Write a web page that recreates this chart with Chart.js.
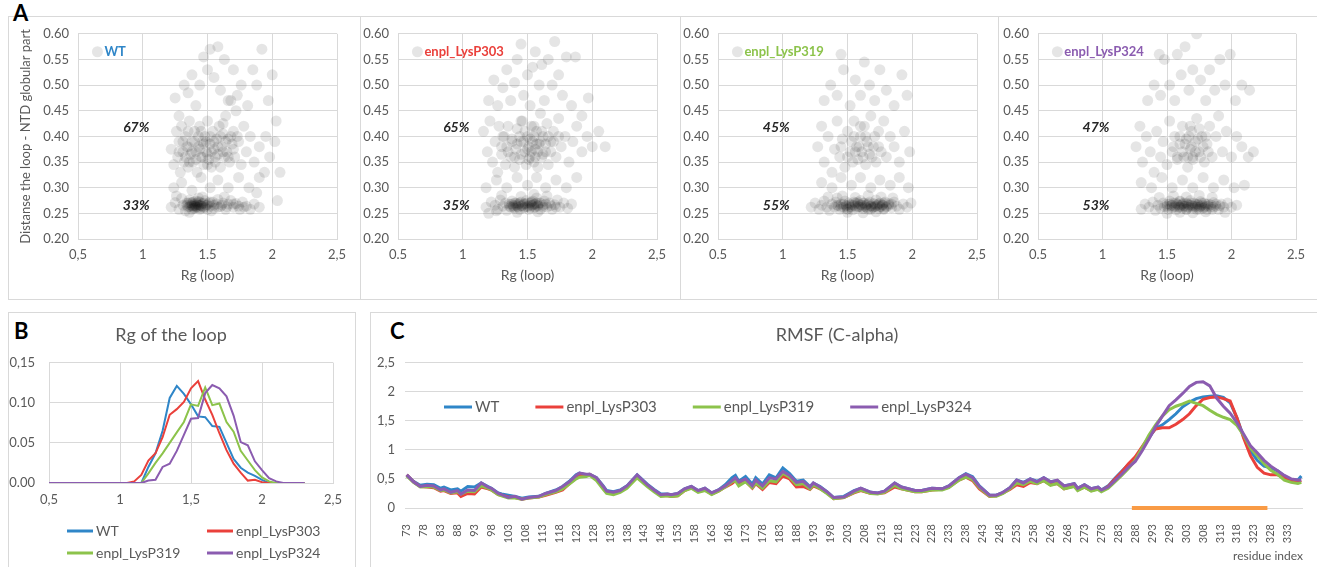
<!DOCTYPE html>
<html>
<head>
<meta charset="utf-8">
<script src="https://cdn.jsdelivr.net/npm/chart.js@4.4.0/dist/chart.umd.min.js"></script>
<style>
body { margin:0; width:1317px; height:567px; background:#fff; position:relative; overflow:hidden; font-family:Lato, sans-serif; }
.frame { position:absolute; border:1px solid #d9d9d9; box-sizing:border-box; }
.vline { position:absolute; width:1px; background:#d9d9d9; }
.tag { position:absolute; font:bold 22px Lato, sans-serif; line-height:1; color:#000; }
.plot { position:absolute; }
</style>
</head>
<body>
<div class="frame" style="left:8px;top:16px;width:1330px;height:284px"></div>
<div class="vline" style="left:360px;top:16px;height:284px"></div>
<div class="vline" style="left:680px;top:16px;height:284px"></div>
<div class="vline" style="left:998px;top:16px;height:284px"></div>
<div class="frame" style="left:8px;top:312px;width:348px;height:280px"></div>
<div class="frame" style="left:370px;top:312px;width:960px;height:280px"></div>
<div class="tag" style="left:13px;top:2px">A</div>
<div class="tag" style="left:14px;top:320px">B</div>
<div class="tag" style="left:390px;top:320px">C</div>

<div class="plot" style="left:9px;top:17px"><canvas id="a1" width="350" height="280"></canvas></div>
<div class="plot" style="left:361px;top:17px"><canvas id="a2" width="318" height="280"></canvas></div>
<div class="plot" style="left:681px;top:17px"><canvas id="a3" width="316" height="280"></canvas></div>
<div class="plot" style="left:999px;top:17px"><canvas id="a4" width="318" height="280"></canvas></div>
<div class="plot" style="left:9px;top:314px"><canvas id="b" width="346" height="253"></canvas></div>
<div class="plot" style="left:371px;top:314px"><canvas id="c" width="946" height="253"></canvas></div>

<script>
// ---------- data ----------
const seriesNames = ['WT', 'enpl_LysP303', 'enpl_LysP319', 'enpl_LysP324'];
const seriesColors = ['#2f86c8', '#ea403b', '#8cc34b', '#8b5cb0'];

// panel A: Rg (loop) vs distance loop - NTD globular part, [rg, dist]
const wtPoints = [
  [1.22,0.262],[1.25,0.271],[1.28,0.258],[1.30,0.279],[1.31,0.266],[1.33,0.255],[1.34,0.270],[1.35,0.262],[1.36,0.276],[1.37,0.266],
  [1.38,0.258],[1.38,0.270],[1.39,0.264],[1.40,0.268],[1.40,0.260],[1.41,0.274],[1.41,0.265],[1.42,0.262],[1.42,0.270],[1.43,0.266],
  [1.44,0.258],[1.44,0.272],[1.45,0.265],[1.46,0.269],[1.47,0.261],[1.48,0.275],[1.49,0.266],[1.50,0.258],[1.51,0.270],[1.52,0.264],
  [1.54,0.272],[1.55,0.260],[1.57,0.268],[1.58,0.277],[1.60,0.263],[1.62,0.270],[1.64,0.258],[1.66,0.268],[1.68,0.275],[1.70,0.262],
  [1.72,0.269],[1.75,0.258],[1.77,0.272],[1.80,0.264],[1.83,0.258],[1.86,0.268],[1.90,0.262],[1.26,0.284],[1.46,0.282],[1.53,0.255],
  [1.36,0.252],[1.43,0.280],[1.63,0.282],[1.78,0.262],
  [1.34,0.266],[1.35,0.270],[1.36,0.263],[1.37,0.271],[1.38,0.265],[1.39,0.260],[1.39,0.272],[1.40,0.265],[1.41,0.262],[1.42,0.267],
  [1.43,0.261],[1.43,0.273],[1.44,0.266],[1.45,0.260],[1.46,0.264],[1.47,0.270],[1.48,0.262],[1.50,0.267],[1.52,0.272],[1.55,0.266],
  [1.58,0.262],[1.61,0.266],[1.65,0.263],[1.70,0.268],[1.74,0.264],
  [1.22,0.375],[1.24,0.345],[1.26,0.41],[1.27,0.36],[1.28,0.39],[1.29,0.33],[1.30,0.42],[1.31,0.37],[1.32,0.35],[1.33,0.40],
  [1.34,0.38],[1.35,0.34],[1.36,0.43],[1.37,0.365],[1.38,0.39],[1.39,0.35],[1.40,0.41],[1.41,0.37],[1.42,0.33],[1.43,0.38],
  [1.44,0.42],[1.45,0.36],[1.46,0.39],[1.47,0.345],[1.48,0.40],[1.49,0.37],[1.50,0.43],[1.51,0.355],[1.52,0.385],[1.53,0.34],
  [1.54,0.41],[1.55,0.375],[1.56,0.35],[1.57,0.395],[1.58,0.365],[1.59,0.42],[1.60,0.34],[1.61,0.38],[1.62,0.405],[1.63,0.36],
  [1.64,0.44],[1.65,0.37],[1.66,0.395],[1.67,0.35],[1.68,0.47],[1.69,0.385],[1.70,0.41],[1.71,0.36],[1.72,0.45],[1.74,0.39],
  [1.76,0.345],[1.78,0.42],[1.80,0.37],[1.83,0.40],[1.86,0.35],[1.90,0.38],[1.94,0.33],[1.98,0.36],[2.02,0.39],[2.06,0.33],
  [1.28,0.37],[1.31,0.39],[1.33,0.36],[1.35,0.38],[1.36,0.35],[1.38,0.37],[1.40,0.39],[1.41,0.355],[1.43,0.40],[1.44,0.375],
  [1.46,0.36],[1.47,0.385],[1.49,0.39],[1.50,0.365],[1.52,0.40],[1.53,0.37],[1.55,0.39],[1.56,0.36],[1.58,0.38],[1.60,0.40],
  [1.62,0.37],[1.64,0.39],[1.66,0.36],[1.68,0.40],[1.70,0.375],[1.73,0.40],[1.45,0.41],[1.35,0.41],[1.62,0.425],[1.50,0.345],
  [1.25,0.475],[1.28,0.44],[1.32,0.50],[1.35,0.485],[1.38,0.52],[1.41,0.46],[1.44,0.50],[1.47,0.555],[1.50,0.53],[1.52,0.57],
  [1.55,0.515],[1.58,0.575],[1.60,0.49],[1.63,0.55],[1.66,0.47],[1.70,0.53],[1.73,0.48],[1.76,0.50],[1.81,0.46],[1.85,0.53],
  [1.88,0.50],[1.92,0.57],[1.97,0.47],[2.00,0.52],[1.95,0.40],[2.03,0.43],
  [1.24,0.30],[1.30,0.31],[1.38,0.295],[1.45,0.32],[1.52,0.30],[1.58,0.315],[1.66,0.30],[1.74,0.32],[1.82,0.30],[1.90,0.32],
  [1.88,0.29],[2.04,0.275]
];
const p303Points = [
  [1.18,0.262],[1.20,0.250],[1.22,0.272],[1.25,0.266],[1.27,0.258],[1.29,0.276],[1.31,0.264],[1.33,0.270],[1.34,0.256],[1.36,0.268],
  [1.37,0.262],[1.38,0.274],[1.39,0.265],[1.40,0.260],[1.41,0.270],[1.42,0.264],[1.43,0.268],[1.44,0.258],[1.45,0.272],[1.46,0.265],
  [1.47,0.261],[1.48,0.269],[1.49,0.275],[1.50,0.263],[1.51,0.258],[1.52,0.270],[1.53,0.266],[1.54,0.274],[1.55,0.261],[1.56,0.268],
  [1.57,0.280],[1.58,0.264],[1.59,0.270],[1.60,0.258],[1.62,0.266],[1.63,0.274],[1.65,0.262],[1.67,0.270],[1.69,0.258],[1.71,0.267],
  [1.73,0.276],[1.75,0.262],[1.78,0.270],[1.81,0.260],[1.84,0.268],[1.30,0.285],[1.45,0.283],[1.55,0.287],[1.65,0.284],[1.42,0.252],
  [1.58,0.253],[1.26,0.255],
  [1.36,0.264],[1.38,0.268],[1.39,0.262],[1.40,0.270],[1.41,0.266],[1.43,0.262],[1.44,0.270],[1.45,0.265],[1.47,0.268],[1.48,0.262],
  [1.50,0.270],[1.51,0.265],[1.52,0.261],[1.53,0.272],[1.54,0.266],[1.55,0.268],[1.56,0.262],[1.57,0.270],[1.58,0.266],[1.60,0.270],
  [1.62,0.262],[1.64,0.268],[1.68,0.265],[1.72,0.262],
  [1.16,0.41],[1.19,0.37],[1.21,0.43],[1.23,0.35],[1.25,0.39],[1.27,0.33],[1.28,0.42],[1.30,0.365],[1.31,0.40],[1.33,0.345],
  [1.34,0.38],[1.35,0.42],[1.37,0.36],[1.38,0.395],[1.40,0.34],[1.41,0.375],[1.42,0.415],[1.44,0.355],[1.45,0.39],[1.46,0.43],
  [1.48,0.37],[1.49,0.345],[1.50,0.40],[1.51,0.38],[1.52,0.36],[1.53,0.42],[1.54,0.39],[1.55,0.35],[1.56,0.375],[1.57,0.41],
  [1.58,0.34],[1.59,0.385],[1.60,0.445],[1.61,0.36],[1.62,0.40],[1.64,0.37],[1.65,0.425],[1.66,0.345],[1.68,0.39],[1.70,0.41],
  [1.72,0.36],[1.74,0.435],[1.76,0.38],[1.79,0.40],[1.82,0.35],[1.85,0.39],[1.88,0.42],[1.92,0.37],[1.96,0.40],[2.00,0.38],
  [2.05,0.41],[2.10,0.38],
  [1.35,0.37],[1.38,0.39],[1.40,0.36],[1.42,0.385],[1.44,0.40],[1.45,0.365],[1.47,0.39],[1.48,0.41],[1.50,0.375],[1.51,0.355],
  [1.52,0.395],[1.53,0.37],[1.55,0.40],[1.56,0.36],[1.57,0.385],[1.58,0.37],[1.60,0.39],[1.61,0.41],[1.62,0.365],[1.64,0.385],
  [1.66,0.40],[1.68,0.37],[1.70,0.39],[1.30,0.38],[1.32,0.40],[1.74,0.40],[1.55,0.42],[1.45,0.43],
  [1.20,0.47],[1.24,0.51],[1.27,0.46],[1.31,0.495],[1.34,0.53],[1.37,0.47],[1.40,0.505],[1.42,0.55],[1.45,0.58],[1.47,0.48],
  [1.50,0.52],[1.52,0.46],[1.54,0.535],[1.56,0.565],[1.59,0.50],[1.61,0.54],[1.63,0.47],[1.66,0.55],[1.69,0.50],[1.71,0.585],
  [1.74,0.52],[1.77,0.48],[1.80,0.555],[1.84,0.46],[1.87,0.555],[1.97,0.475],[1.92,0.44],
  [1.18,0.30],[1.26,0.315],[1.34,0.30],[1.42,0.32],[1.50,0.305],[1.57,0.32],[1.64,0.30],[1.72,0.315],[1.80,0.30],[1.88,0.32]
];
const p319Points = [
  [1.27,0.38],[1.30,0.42],[1.32,0.35],[1.35,0.40],[1.38,0.33],[1.40,0.375],[1.42,0.43],[1.44,0.36],[1.46,0.395],[1.48,0.34],
  [1.50,0.41],[1.52,0.37],[1.54,0.35],[1.55,0.43],[1.57,0.38],[1.58,0.355],[1.60,0.40],[1.61,0.37],[1.63,0.42],[1.64,0.345],
  [1.65,0.39],[1.67,0.365],[1.68,0.44],[1.70,0.38],[1.72,0.35],[1.74,0.41],[1.76,0.37],[1.78,0.43],[1.80,0.36],[1.83,0.40],
  [1.86,0.38],[1.90,0.35],[1.94,0.41],[1.98,0.37],
  [1.45,0.38],[1.50,0.36],[1.53,0.39],[1.56,0.37],[1.59,0.38],[1.62,0.36],[1.64,0.40],[1.66,0.38],[1.69,0.36],[1.71,0.40],
  [1.74,0.38],[1.60,0.42],[1.55,0.40],
  [1.32,0.47],[1.37,0.50],[1.42,0.48],[1.47,0.53],[1.52,0.46],[1.56,0.51],[1.60,0.48],[1.63,0.545],[1.67,0.50],[1.71,0.47],
  [1.75,0.53],[1.80,0.49],[1.86,0.46],[1.92,0.52],[1.96,0.48],[1.45,0.56],
  [1.30,0.31],[1.38,0.30],[1.45,0.32],[1.53,0.305],[1.60,0.32],[1.68,0.30],[1.75,0.315],[1.83,0.305],[1.90,0.32],[1.97,0.30],
  [1.22,0.262],[1.25,0.270],[1.28,0.258],[1.30,0.266],[1.32,0.274],[1.34,0.262],[1.36,0.256],[1.38,0.268],[1.40,0.262],[1.41,0.272],
  [1.43,0.265],[1.44,0.258],[1.45,0.268],[1.47,0.262],[1.48,0.274],[1.49,0.266],[1.50,0.259],[1.51,0.270],[1.52,0.263],[1.53,0.267],
  [1.54,0.257],[1.55,0.272],[1.56,0.264],[1.57,0.260],[1.58,0.269],[1.59,0.263],[1.60,0.275],[1.61,0.266],[1.62,0.259],[1.63,0.270],
  [1.64,0.263],[1.65,0.267],[1.66,0.258],[1.67,0.272],[1.68,0.264],[1.69,0.261],[1.70,0.269],[1.71,0.263],[1.72,0.276],[1.73,0.266],
  [1.74,0.259],[1.75,0.270],[1.76,0.263],[1.77,0.267],[1.78,0.258],[1.79,0.272],[1.80,0.264],[1.82,0.269],[1.84,0.261],[1.86,0.272],
  [1.88,0.264],[1.90,0.258],[1.93,0.268],[1.96,0.262],[1.99,0.270],[1.35,0.282],[1.46,0.284],[1.56,0.281],[1.66,0.285],[1.76,0.282],
  [1.50,0.252],[1.62,0.251],[1.72,0.253],[1.42,0.280],[1.85,0.280],
  [1.42,0.266],[1.45,0.262],[1.47,0.268],[1.49,0.264],[1.51,0.267],[1.53,0.262],[1.55,0.266],[1.56,0.270],[1.58,0.263],[1.60,0.267],
  [1.61,0.262],[1.62,0.270],[1.64,0.266],[1.65,0.261],[1.66,0.269],[1.68,0.265],[1.70,0.262],[1.71,0.268],[1.72,0.264],[1.74,0.268],
  [1.75,0.263],[1.77,0.266],[1.78,0.270],[1.80,0.262],[1.82,0.266],[1.84,0.268],[1.58,0.272],[1.68,0.258],[1.50,0.258],[1.78,0.259]
];
const p324Points = [
  [1.26,0.38],[1.29,0.42],[1.31,0.35],[1.34,0.40],[1.37,0.37],[1.40,0.33],[1.42,0.41],[1.45,0.36],[1.47,0.39],[1.50,0.345],
  [1.52,0.43],[1.54,0.37],[1.56,0.40],[1.58,0.355],[1.60,0.385],[1.62,0.42],[1.63,0.36],[1.65,0.395],[1.66,0.34],[1.68,0.375],
  [1.69,0.41],[1.70,0.36],[1.72,0.39],[1.73,0.435],[1.75,0.37],[1.77,0.40],[1.79,0.35],[1.81,0.385],[1.83,0.42],[1.85,0.36],
  [1.88,0.40],[1.90,0.44],[1.93,0.37],[1.96,0.41],[2.00,0.36],[2.04,0.40],[2.08,0.38],[2.13,0.36],[2.17,0.37],
  [1.55,0.38],[1.58,0.36],[1.60,0.40],[1.62,0.37],[1.64,0.385],[1.66,0.36],[1.67,0.40],[1.69,0.38],[1.70,0.355],[1.72,0.37],
  [1.74,0.395],[1.76,0.36],[1.78,0.38],[1.80,0.40],[1.82,0.37],[1.68,0.42],[1.75,0.415],
  [1.35,0.47],[1.40,0.50],[1.45,0.48],[1.48,0.55],[1.52,0.50],[1.56,0.47],[1.58,0.56],[1.61,0.52],[1.64,0.575],[1.67,0.49],
  [1.70,0.53],[1.73,0.60],[1.76,0.51],[1.80,0.47],[1.83,0.53],[1.87,0.49],[1.91,0.55],[1.95,0.50],[1.99,0.56],[2.03,0.47],
  [2.08,0.50],[2.14,0.49],[1.44,0.56],
  [1.30,0.31],[1.38,0.30],[1.46,0.32],[1.54,0.30],[1.62,0.315],[1.70,0.30],[1.78,0.32],[1.86,0.30],[1.94,0.315],[2.02,0.30],
  [2.10,0.305],
  [1.30,0.258],[1.33,0.268],[1.36,0.262],[1.39,0.272],[1.41,0.256],[1.43,0.266],[1.45,0.260],[1.47,0.270],[1.48,0.263],[1.50,0.268],
  [1.51,0.258],[1.52,0.274],[1.53,0.265],[1.54,0.261],[1.55,0.270],[1.56,0.264],[1.57,0.257],[1.58,0.268],[1.59,0.262],[1.60,0.273],
  [1.61,0.266],[1.62,0.260],[1.63,0.270],[1.64,0.264],[1.65,0.258],[1.66,0.268],[1.67,0.262],[1.68,0.275],[1.69,0.266],[1.70,0.260],
  [1.71,0.270],[1.72,0.264],[1.73,0.258],[1.74,0.268],[1.75,0.262],[1.76,0.273],[1.77,0.266],[1.78,0.260],[1.79,0.270],[1.80,0.264],
  [1.81,0.258],[1.82,0.268],[1.84,0.262],[1.86,0.271],[1.88,0.264],[1.90,0.258],[1.92,0.268],[1.94,0.262],[1.97,0.270],[2.00,0.262],
  [2.04,0.266],[1.44,0.281],[1.55,0.284],[1.65,0.282],[1.75,0.285],[1.85,0.281],[1.60,0.252],[1.70,0.251],[1.80,0.253],[1.50,0.250],
  [1.95,0.252],
  [1.50,0.264],[1.52,0.268],[1.54,0.266],[1.56,0.262],[1.57,0.270],[1.59,0.266],[1.60,0.262],[1.62,0.268],[1.63,0.264],[1.65,0.270],
  [1.66,0.262],[1.67,0.266],[1.69,0.270],[1.70,0.264],[1.72,0.268],[1.73,0.262],[1.74,0.266],[1.76,0.264],[1.77,0.270],[1.79,0.262],
  [1.80,0.268],[1.82,0.264],[1.84,0.267],[1.86,0.262],[1.88,0.268],[1.91,0.265],[1.65,0.258],[1.75,0.258],[1.85,0.258],[1.60,0.274]
];
const stateShares = [['67%', '33%'], ['65%', '35%'], ['45%', '55%'], ['47%', '53%']];
const scatterXTicks = [
  ['0,5', '1', '1.5', '2', '2,5'],
  ['0.5', '1', '1.5', '2', '2,5'],
  ['0.5', '1', '1.5', '2', '2,5'],
  ['0.5', '1', '1.5', '2', '2.5']
];
const scatterYTicks = ['0.20', '0.25', '0.30', '0.35', '0.40', '0.45', '0.50', '0.55', '0.60'];

// panel B: distribution of Rg of the loop
const rgBins = [0.50,0.55,0.60,0.65,0.70,0.75,0.80,0.85,0.90,0.95,1.00,1.05,1.10,1.15,1.20,1.25,1.30,1.35,1.40,
  1.45,1.50,1.55,1.60,1.65,1.70,1.75,1.80,1.85,1.90,1.95,2.00,2.05,2.10,2.15,2.20,2.25,2.30];
const rgWT = [0,0,0,0,0,0,0,0,0,0,0,0,0,0,0.020,0.037,0.065,0.106,0.121,
  0.111,0.098,0.083,0.082,0.071,0.070,0.050,0.030,0.019,0.013,0.009,0.004,0,0,0,0,0,0];
const rg303 = [0,0,0,0,0,0,0,0,0,0,0,0,0.002,0.010,0.028,0.037,0.057,0.085,0.092,
  0.101,0.118,0.127,0.104,0.085,0.062,0.041,0.024,0.013,0.003,0.004,0.001,0,0,0,0,0,0];
const rg319 = [0,0,0,0,0,0,0,0,0,0,0,0,0,0,0.012,0.025,0.037,0.050,0.063,
  0.076,0.098,0.096,0.119,0.097,0.099,0.076,0.064,0.040,0.028,0.016,0.007,0.002,0,0,0,0,0];
const rg324 = [0,0,0,0,0,0,0,0,0,0,0,0,0,0,0.003,0.004,0.020,0.024,0.040,
  0.060,0.080,0.081,0.112,0.122,0.118,0.108,0.084,0.051,0.047,0.027,0.016,0.006,0.002,0,0,0,0];
const rgXTicks = ['0,5', '1', '1,5', '2', '2,5'];
const rgYTicks = ['0.00', '0.05', '0.10', '0,15'];

// panel C: RMSF (C-alpha) per residue
const residues = [
  73,75,77,79,81,83,84,86,88,89, 91,93,95,97,98,100,101,103,105,107,
  109,112,114,117,119,121,123,124,126,127, 129,131,132,134,136,138,141,144,146,148,
  150,151,153,155,157,159,161,163,165,167, 169,170,171,173,175,176,178,180,182,184,
  186,188,190,192,193,195,197,199,202,205, 207,210,212,214,217,219,223,225,228,231,
  233,236,238,240,242,245,247,249,251,253, 255,257,259,261,263,265,267,270,271,273,
  275,277,278,280,282,284,286,288,290,292, 294,296,298,300,302,304,306,308,310,312,
  314,316,318,320,322,324,326,328,330,332, 334,336,337
];
const rmsfWT = [
  0.57,0.46,0.39,0.41,0.40,0.34,0.36,0.31,0.33,0.29, 0.37,0.36,0.43,0.37,0.34,0.26,0.24,0.22,0.20,0.17,
  0.19,0.20,0.25,0.31,0.37,0.46,0.57,0.60,0.57,0.58, 0.52,0.38,0.30,0.28,0.31,0.38,0.57,0.41,0.32,0.24,
  0.24,0.23,0.25,0.33,0.37,0.30,0.34,0.26,0.31,0.40, 0.52,0.56,0.46,0.54,0.41,0.52,0.41,0.57,0.52,0.69,
  0.59,0.46,0.48,0.37,0.43,0.37,0.28,0.18,0.20,0.30, 0.34,0.27,0.26,0.29,0.43,0.36,0.30,0.30,0.34,0.33,
  0.38,0.52,0.59,0.54,0.38,0.22,0.22,0.27,0.35,0.48, 0.44,0.50,0.46,0.52,0.45,0.47,0.38,0.42,0.34,0.40,
  0.33,0.36,0.31,0.38,0.51,0.63,0.75,0.85,1.02,1.20, 1.37,1.43,1.52,1.62,1.74,1.82,1.88,1.91,1.92,1.93,
  1.90,1.81,1.55,1.22,0.98,0.82,0.72,0.69,0.64,0.55, 0.49,0.48,0.55
];
const rmsf303 = [
  0.57,0.45,0.37,0.36,0.35,0.29,0.30,0.25,0.26,0.20, 0.25,0.24,0.36,0.33,0.31,0.23,0.22,0.19,0.18,0.15,
  0.17,0.19,0.22,0.27,0.31,0.42,0.52,0.56,0.57,0.58, 0.50,0.34,0.27,0.25,0.29,0.36,0.53,0.39,0.30,0.21,
  0.21,0.20,0.21,0.30,0.35,0.28,0.31,0.24,0.29,0.36, 0.42,0.47,0.41,0.46,0.34,0.42,0.32,0.44,0.42,0.55,
  0.50,0.36,0.37,0.32,0.38,0.33,0.26,0.16,0.18,0.26, 0.30,0.25,0.25,0.26,0.36,0.33,0.28,0.28,0.31,0.32,
  0.36,0.48,0.53,0.47,0.33,0.20,0.21,0.26,0.32,0.40, 0.37,0.44,0.42,0.47,0.40,0.42,0.33,0.38,0.31,0.36,
  0.30,0.33,0.30,0.37,0.50,0.62,0.76,0.88,1.05,1.22, 1.36,1.38,1.38,1.44,1.52,1.62,1.76,1.87,1.90,1.91,
  1.88,1.84,1.55,1.20,0.90,0.70,0.60,0.57,0.57,0.52, 0.47,0.45,0.47
];
const rmsf319 = [
  0.55,0.44,0.36,0.37,0.36,0.30,0.31,0.26,0.28,0.24, 0.29,0.28,0.38,0.34,0.31,0.23,0.21,0.17,0.17,0.15,
  0.17,0.19,0.23,0.28,0.33,0.41,0.50,0.53,0.54,0.56, 0.47,0.32,0.25,0.23,0.27,0.34,0.52,0.37,0.28,0.20,
  0.21,0.20,0.21,0.30,0.34,0.27,0.30,0.23,0.29,0.36, 0.45,0.47,0.38,0.45,0.35,0.43,0.34,0.47,0.45,0.60,
  0.53,0.40,0.42,0.33,0.40,0.33,0.25,0.16,0.18,0.27, 0.31,0.25,0.24,0.27,0.39,0.33,0.28,0.28,0.31,0.31,
  0.35,0.48,0.53,0.49,0.35,0.20,0.20,0.25,0.33,0.43, 0.40,0.46,0.42,0.47,0.39,0.42,0.33,0.37,0.30,0.36,
  0.29,0.32,0.28,0.34,0.45,0.56,0.68,0.82,1.03,1.25, 1.43,1.58,1.69,1.75,1.79,1.84,1.80,1.76,1.68,1.61,
  1.56,1.52,1.42,1.25,1.03,0.90,0.76,0.65,0.58,0.48, 0.44,0.42,0.44
];
const rmsf324 = [
  0.57,0.45,0.37,0.39,0.38,0.31,0.33,0.27,0.30,0.24, 0.31,0.30,0.43,0.36,0.34,0.25,0.23,0.18,0.20,0.15,
  0.18,0.20,0.25,0.30,0.37,0.45,0.56,0.60,0.58,0.58, 0.52,0.37,0.29,0.27,0.30,0.38,0.57,0.40,0.31,0.23,
  0.24,0.23,0.25,0.33,0.37,0.30,0.34,0.26,0.31,0.38, 0.47,0.52,0.45,0.50,0.38,0.48,0.38,0.52,0.50,0.63,
  0.56,0.44,0.46,0.36,0.43,0.36,0.28,0.18,0.19,0.29, 0.34,0.27,0.26,0.29,0.43,0.36,0.30,0.30,0.34,0.33,
  0.38,0.52,0.58,0.52,0.37,0.22,0.22,0.27,0.35,0.48, 0.43,0.50,0.45,0.52,0.45,0.48,0.38,0.42,0.34,0.40,
  0.33,0.36,0.31,0.36,0.47,0.58,0.70,0.80,0.98,1.18, 1.40,1.58,1.76,1.86,1.97,2.09,2.16,2.17,2.10,1.89,
  1.75,1.63,1.47,1.27,1.07,0.95,0.82,0.72,0.64,0.56, 0.50,0.48,0.48
];
const loopRange = [287, 327];
const residueTicks = [73,78,83,88,93,98,103,108,113,118,123,128,133,138,143,148,153,158,163,168,173,178,183,
  188,193,198,203,208,213,218,223,228,233,238,243,248,253,258,263,268,273,278,283,288,293,298,303,308,313,318,
  323,328,333];
const rmsfYTicks = ['0', '0,5', '1', '1,5', '2', '2,5'];

// ---------- charts ----------
Chart.defaults.font.family = 'Lato';
Chart.defaults.font.size = 13;
Chart.defaults.color = '#595959';
const gridGrey = '#d9d9d9';
const dotFill = 'rgba(0,0,0,0.1)';

// legend marker + share labels inside the scatter plots
const scatterNotes = {
  id: 'scatterNotes',
  afterDatasetsDraw(chart, args, opts) {
    const { ctx, scales: { x, y } } = chart;
    ctx.save();
    const mx = x.getPixelForValue(0.65), my = y.getPixelForValue(0.565);
    ctx.fillStyle = dotFill;
    ctx.beginPath();
    ctx.arc(mx, my, 5.5, 0, Math.PI * 2);
    ctx.fill();
    ctx.font = 'bold 13px Lato';
    ctx.fillStyle = opts.color;
    ctx.textBaseline = 'middle';
    ctx.fillText(opts.name, mx + 7, my);
    ctx.font = 'italic bold 14px Lato';
    ctx.fillStyle = '#262626';
    ctx.textAlign = 'center';
    ctx.fillText(opts.shares[0], x.getPixelForValue(0.95), y.getPixelForValue(0.418));
    ctx.fillText(opts.shares[1], x.getPixelForValue(0.95), y.getPixelForValue(0.266));
    ctx.restore();
  }
};

// hand drawn line legend (rows or a grid)
const lineKey = {
  id: 'lineKey',
  afterDraw(chart, args, opts) {
    const ctx = chart.ctx;
    ctx.save();
    ctx.font = opts.size + 'px Lato';
    ctx.textBaseline = 'middle';
    let x = opts.x;
    chart.data.datasets.forEach((ds, i) => {
      if (!ds.label) return;
      let px = x, py = opts.y;
      if (opts.cols) {
        px = opts.x + (i % opts.cols) * opts.colWidth;
        py = opts.y + Math.floor(i / opts.cols) * opts.rowHeight;
      }
      ctx.strokeStyle = ds.borderColor;
      ctx.lineWidth = 3;
      ctx.beginPath();
      ctx.moveTo(px, py);
      ctx.lineTo(px + opts.lineLen, py);
      ctx.stroke();
      ctx.fillStyle = '#595959';
      ctx.fillText(ds.label, px + opts.lineLen + 3, py);
      x = px + opts.lineLen + 3 + ctx.measureText(ds.label).width + opts.gap;
    });
    ctx.restore();
  }
};

function scatterPanel(id, points, idx, yWidth, padRight, yTitle) {
  const xLabels = scatterXTicks[idx];
  new Chart(document.getElementById(id), {
    type: 'scatter',
    data: {
      datasets: [{
        data: points.map(p => ({ x: p[0], y: p[1] })),
        backgroundColor: dotFill,
        borderWidth: 0,
        pointRadius: 5.5,
        pointHoverRadius: 5.5
      }]
    },
    options: {
      responsive: false,
      animation: false,
      events: [],
      layout: { padding: { top: 15, right: padRight, left: 0, bottom: 0 } },
      plugins: {
        legend: { display: false },
        tooltip: { enabled: false },
        scatterNotes: { name: seriesNames[idx], color: seriesColors[idx], shares: stateShares[idx] }
      },
      scales: {
        x: {
          type: 'linear', min: 0.5, max: 2.5,
          ticks: { stepSize: 0.5, padding: 8, callback: v => xLabels[Math.round((v - 0.5) / 0.5)] },
          grid: { color: gridGrey, drawTicks: false },
          border: { color: gridGrey },
          title: { display: true, text: 'Rg (loop)', font: { size: 14 }, padding: { top: 0, bottom: 13 } },
          afterFit: s => { s.height = 58; }
        },
        y: {
          min: 0.2, max: 0.6,
          ticks: { stepSize: 0.05, padding: 9, callback: v => scatterYTicks[Math.round((v - 0.2) / 0.05)] },
          grid: { color: gridGrey, drawTicks: false },
          border: { color: gridGrey },
          title: { display: yTitle, text: 'Distanse the loop - NTD globular part', font: { size: 13 }, padding: { top: 9, bottom: 0 } },
          afterFit: s => { s.width = yWidth; }
        }
      }
    },
    plugins: [scatterNotes]
  });
}

scatterPanel('a1', wtPoints, 0, 69, 22, true);
scatterPanel('a2', p303Points, 1, 37, 22, false);
scatterPanel('a3', p319Points, 2, 37, 20, false);
scatterPanel('a4', p324Points, 3, 39, 21, false);

// panel B
const rgSeries = [rgWT, rg303, rg319, rg324];
new Chart(document.getElementById('b'), {
  type: 'line',
  data: {
    datasets: rgSeries.map((vals, i) => ({
      label: seriesNames[i],
      data: vals.map((v, k) => ({ x: rgBins[k], y: v })),
      borderColor: seriesColors[i],
      borderWidth: 2,
      pointRadius: 0,
      order: 4 - i
    }))
  },
  options: {
    responsive: false,
    animation: false,
    events: [],
    layout: { padding: { top: 0, right: 22, left: 0, bottom: 0 } },
    plugins: {
      legend: { display: false },
      tooltip: { enabled: false },
      title: { display: true, text: 'Rg of the loop', font: { size: 18, weight: 'normal' }, color: '#595959', padding: { top: 10, bottom: 17 } },
      lineKey: { x: 58, y: 217, size: 14, lineLen: 26, cols: 2, colWidth: 140, rowHeight: 22 }
    },
    scales: {
      x: {
        type: 'linear', min: 0.5, max: 2.5,
        ticks: { stepSize: 0.5, padding: 9, callback: v => rgXTicks[Math.round((v - 0.5) / 0.5)] },
        grid: { color: gridGrey, drawTicks: false },
        border: { color: gridGrey },
        afterFit: s => { s.height = 84; }
      },
      y: {
        min: 0, max: 0.15,
        ticks: { stepSize: 0.05, padding: 14, callback: v => rgYTicks[Math.round(v / 0.05)] },
        grid: { color: gridGrey, drawTicks: false },
        border: { color: gridGrey },
        afterFit: s => { s.width = 40; }
      }
    }
  },
  plugins: [lineKey]
});

// panel C
const rmsfSeries = [rmsfWT, rmsf303, rmsf319, rmsf324];
const rmsfSets = rmsfSeries.map((vals, i) => ({
  label: seriesNames[i],
  data: vals.map((v, k) => ({ x: residues[k], y: v })),
  borderColor: seriesColors[i],
  borderWidth: 3,
  pointRadius: 0,
  order: 5 - i
}));
rmsfSets.push({
  data: loopRange.map(r => ({ x: r, y: 0 })),
  borderColor: '#f99b45',
  borderWidth: 4,
  pointRadius: 0,
  clip: false,
  order: 0
});
new Chart(document.getElementById('c'), {
  type: 'line',
  data: { datasets: rmsfSets },
  options: {
    responsive: false,
    animation: false,
    events: [],
    layout: { padding: { top: 0, right: 14, left: 0, bottom: 0 } },
    plugins: {
      legend: { display: false },
      tooltip: { enabled: false },
      title: { display: true, text: 'RMSF (C-alpha)', font: { size: 18, weight: 'normal' }, color: '#595959', padding: { top: 10, bottom: 17 } },
      lineKey: { x: 73, y: 93, size: 15, lineLen: 28, gap: 36 }
    },
    scales: {
      x: {
        type: 'linear', min: 72.5, max: 337.5,
        afterBuildTicks: s => { s.ticks = residueTicks.map(v => ({ value: v })); },
        ticks: { autoSkip: false, minRotation: 90, maxRotation: 90, padding: 8, font: { size: 11 }, callback: v => String(v) },
        grid: { display: false },
        border: { display: false },
        title: { display: true, text: 'residue index', align: 'end', font: { size: 12 }, padding: { top: 0, bottom: 4 } },
        afterFit: s => { s.height = 59; }
      },
      y: {
        min: 0, max: 2.5,
        ticks: { stepSize: 0.5, padding: 10, callback: v => rmsfYTicks[Math.round(v / 0.5)] },
        grid: { color: gridGrey, drawTicks: false },
        border: { display: false },
        afterFit: s => { s.width = 34; }
      }
    }
  },
  plugins: [lineKey]
});
</script>
</body>
</html>
